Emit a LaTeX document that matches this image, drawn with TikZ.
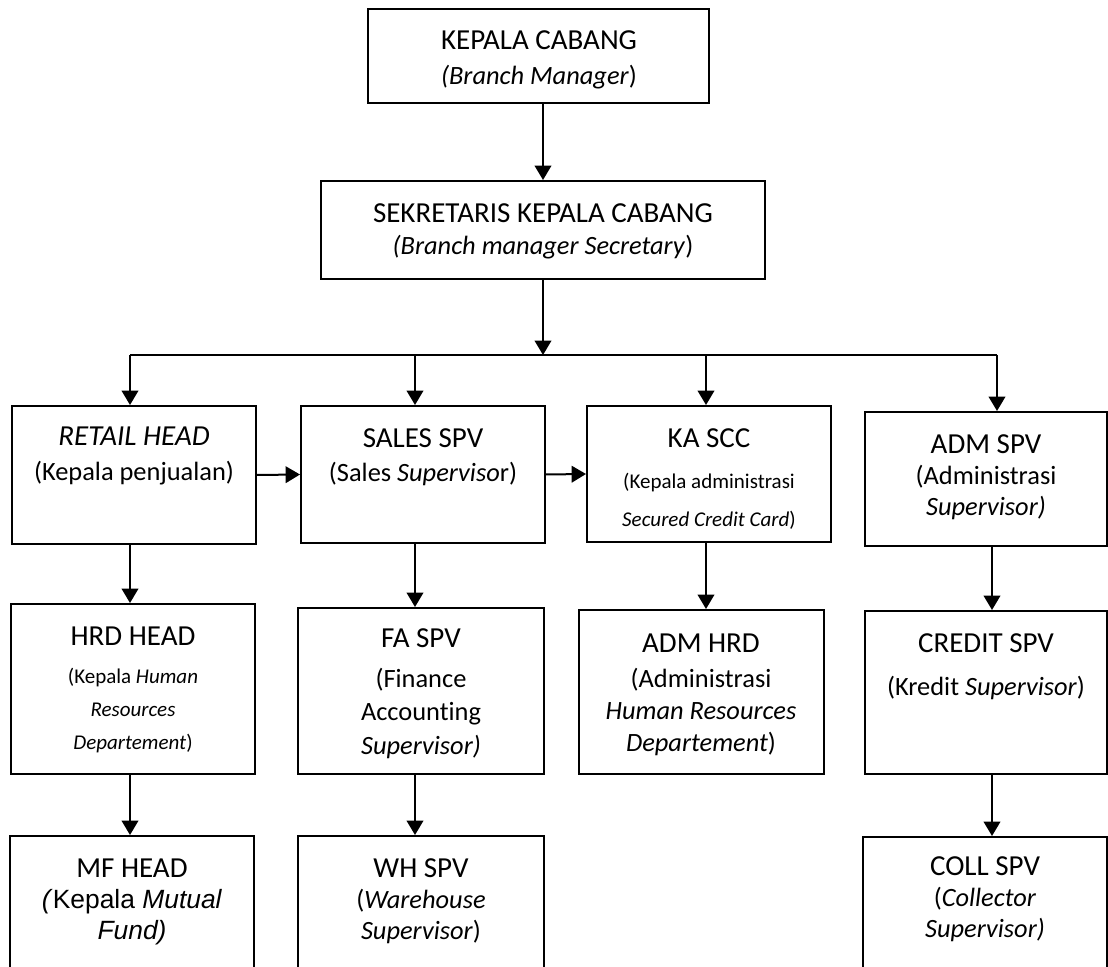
\documentclass[tikz,border=0pt]{standalone}
\usepackage{fontspec}
\setmainfont{Carlito}[Ligatures=NoCommon]
\newfontfamily\arialfont{Liberation Sans}
\usetikzlibrary{arrows.meta,fit}
\newcommand\ttl[1]{{\fontsize{14.5}{16}\selectfont #1}}
\tikzset{
  box/.style={draw,line width=1pt,inner sep=0pt},
  txt/.style={align=center,inner sep=0pt,anchor=north,font=\fontsize{13.2}{#1}\selectfont},
  txt/.default=16pt,
  smalltxt/.style={txt,font=\fontsize{10.5}{#1}\selectfont},
  smalltxt/.default=16.5pt,
  arr/.style={-{Triangle[width=8.3pt,length=7.2pt]},line width=1pt},
}
\begin{document}
\begin{tikzpicture}[x=0.5pt,y=-0.5pt]
            \useasboundingbox (0,0) rectangle (1108,967);
            % boxes
            \node[box,fit={(368,9) (709,103)}] (boss) {};
            \node[box,fit={(321,181) (765,279)}] (sec) {};
            \node[box,fit={(12,406) (256,544)}] (retail) {};
            \node[box,fit={(301,406) (545,543)}] (sales) {};
            \node[box,fit={(587,406) (831,542)}] (kascc) {};
            \node[box,fit={(865,412) (1107,546)}] (admspv) {};
            \node[box,fit={(11,604) (255,774)}] (hrd) {};
            \node[box,fit={(298,608) (544,774)}] (fa) {};
            \node[box,fit={(579,610) (824,774)}] (admhrd) {};
            \node[box,fit={(865,611) (1107,774)}] (credit) {};
            \node[box,fit={(10,836) (254,1010)}] (mf) {};
            \node[box,fit={(298,836) (544,1010)}] (wh) {};
            \node[box,fit={(863,837) (1107,1010)}] (coll) {};

            % texts
            \node[txt] (bosstxt) at (539,30) {\ttl{KEPALA CABANG}\\[1.6pt]\textit{(Branch Manager})};
            \node[txt] (sectxt) at (543,203) {\ttl{SEKRETARIS KEPALA CABANG}\\\textit{(Branch manager Secretary})};
            \node[txt] (retailtxt) at (134,426) {\ttl{\textit{RETAIL HEAD}}\\[1.6pt](Kepala penjualan)};
            \node[txt] (salestxt) at (423,428) {\ttl{SALES SPV}\\[1.1pt](Sales \textit{Superviso}r)};
            \node[smalltxt=19pt] (kascctxt) at (709,428) {\ttl{KA SCC}\\[1.4pt](Kepala administrasi\\\textit{Secured Credit Card})};
            \node[txt=15.6pt] (admspvtxt) at (986,434) {\ttl{ADM SPV}\\(Administrasi\\\textit{Supervisor)}};
            \node[smalltxt] (hrdtxt) at (133,626) {\ttl{HRD HEAD}\\[2.5pt](Kepala \textit{Human}\\\textit{Resources}\\\textit{Departement})};
            \node[txt=16.75pt] (fatxt) at (421,628) {\ttl{FA SPV}\\[3.25pt](Finance\\Accounting\\\textit{Supervisor)}};
            \node[txt] (admhrdtxt) at (701,633) {\ttl{ADM HRD}\\[1.5pt](Administrasi\\\textit{Human Resources}\\\textit{Departement})};
            \node[txt] (credittxt) at (986,633) {\ttl{CREDIT SPV}\\[5.5pt](Kredit \textit{Supervisor})};
            \node[txt=15.5pt] (mftxt) at (132,858) {\ttl{MF HEAD}\\{\arialfont\textit{(}Kepala \textit{Mutual}}\\{\arialfont\textit{Fund)}}};
            \node[txt=15.5pt] (whtxt) at (421,858) {\ttl{WH SPV}\\(\textit{Warehouse}\\\textit{Supervisor})};
            \node[txt=15.5pt] (colltxt) at (985,856) {\ttl{COLL SPV}\\(\textit{Collector}\\\textit{Supervisor)}};

            % connectors
            \coordinate (bus) at (543,355);
            \coordinate (t1) at (130,355);
            \coordinate (t2) at (415,355);
            \coordinate (t3) at (706,355);
            \coordinate (t4) at (997,355);
            \coordinate (d4) at (992,355);
            \draw[arr] (boss.south -| sec.north) -- (sec.north);
            \draw[arr] (sec.south) -- (bus);
            \draw[line width=1pt] (t1) -- (t4);
            \foreach \t/\n in {t1/retail,t2/sales,t3/kascc,t4/admspv}
                \draw[arr] (\t) -- (\t |- \n.north);
            \draw[arr] (retail.east) -- (sales.west);
            \draw[arr] (sales.east) -- (kascc.west);
            \draw[arr] (retail.south -| t1) -- (hrd.north -| t1);
            \draw[arr] (sales.south -| t2) -- (fa.north -| t2);
            \draw[arr] (kascc.south -| t3) -- (admhrd.north -| t3);
            \draw[arr] (admspv.south -| d4) -- (credit.north -| d4);
            \draw[arr] (hrd.south -| t1) -- (mf.north -| t1);
            \draw[arr] (fa.south -| t2) -- (wh.north -| t2);
            \draw[arr] (credit.south -| d4) -- (coll.north -| d4);
        \end{tikzpicture}
\end{document}
